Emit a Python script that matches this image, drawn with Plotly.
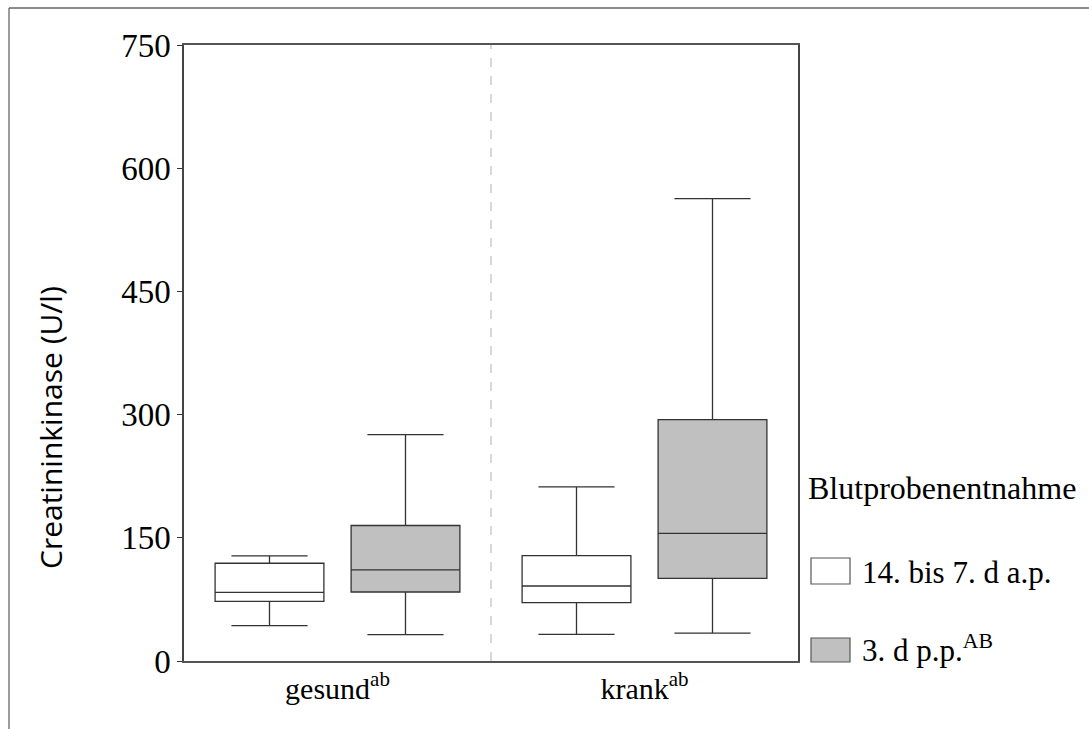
import plotly.graph_objects as go

# Creatine kinase by health status and sampling time (box summary statistics)
groups = ["gesund", "krank"]
group_labels = ["gesund<sup>ab</sup>", "krank<sup>ab</sup>"]

series_names = ["14. bis 7. d a.p.", "3. d p.p.<sup>AB</sup>"]

# 14. bis 7. d a.p.
ap_lower = [43, 32.5]
ap_q1 = [72.7, 71]
ap_median = [83.6, 91.3]
ap_q3 = [119, 128.3]
ap_upper = [128, 212]

# 3. d p.p.
pp_lower = [32, 34]
pp_q1 = [84, 100.7]
pp_median = [111, 155.5]
pp_q3 = [165, 294]
pp_upper = [275.5, 563]

y_ticks = [0, 150, 300, 450, 600, 750]

SERIF = "Liberation Serif, Times New Roman, serif"
LINE = "#333333"
GRAY = "#c0c0c0"

fig = go.Figure()
for name, lo, q1, med, q3, up, fill in [
    (series_names[0], ap_lower, ap_q1, ap_median, ap_q3, ap_upper, "white"),
    (series_names[1], pp_lower, pp_q1, pp_median, pp_q3, pp_upper, GRAY),
]:
    fig.add_trace(go.Box(
        name=name, x=groups, q1=q1, median=med, q3=q3,
        lowerfence=lo, upperfence=up,
        fillcolor=fill, line=dict(color=LINE, width=1.3),
        whiskerwidth=0.7, boxpoints=False, showlegend=False,
        hoverinfo="skip",
    ))

L, R, T, B = 184, 291, 45, 68
W, H = 1089, 729
pw, ph = W - L - R, H - T - B


def px(x):
    return (x - L) / pw


def py(y):
    return (H - B - y) / ph


shapes = [
    # dashed separator between groups
    dict(type="line", xref="x", yref="paper", x0=0.5, x1=0.5, y0=0, y1=1,
         line=dict(color="#cccccc", width=1.5, dash="dash"), layer="below"),
    # outer frame
    dict(type="line", xref="paper", yref="paper", x0=px(9), x1=px(9),
         y0=py(8), y1=py(760), line=dict(color="#666666", width=1.3)),
    dict(type="line", xref="paper", yref="paper", x0=px(9), x1=px(1100),
         y0=py(8), y1=py(8), line=dict(color="#666666", width=1.5)),
    # legend swatches
    dict(type="rect", xref="paper", yref="paper", x0=px(811), x1=px(850),
         y0=py(584), y1=py(558), fillcolor="white",
         line=dict(color="#555555", width=1.2)),
    dict(type="rect", xref="paper", yref="paper", x0=px(811), x1=px(850),
         y0=py(662), y1=py(638), fillcolor=GRAY,
         line=dict(color="#555555", width=1.2)),
]

annotations = [
    dict(text="Creatininkinase (U/l)", xref="paper", yref="paper",
         x=px(50), y=py(428), textangle=-90, showarrow=False,
         font=dict(family="Open Sans, sans-serif", size=30, color="black"),
         xanchor="center", yanchor="middle"),
    dict(text="Blutprobenentnahme", xref="paper", yref="paper",
         x=px(806), y=py(488), showarrow=False, xanchor="left", yanchor="middle",
         font=dict(family=SERIF, size=32, color="black")),
    dict(text=series_names[0], xref="paper", yref="paper",
         x=px(860), y=py(572), showarrow=False, xanchor="left", yanchor="middle",
         font=dict(family=SERIF, size=31, color="black")),
    dict(text=series_names[1], xref="paper", yref="paper",
         x=px(860), y=py(648), showarrow=False, xanchor="left", yanchor="middle",
         font=dict(family=SERIF, size=31, color="black")),
]

fig.update_layout(
    width=W, height=H,
    margin=dict(l=L, r=R, t=T, b=B, pad=0),
    paper_bgcolor="white", plot_bgcolor="white",
    boxmode="group", boxgap=0.114, boxgroupgap=0.2,
    showlegend=False,
    shapes=shapes, annotations=annotations,
    xaxis=dict(
        type="category", categoryorder="array", categoryarray=groups,
        tickvals=groups, ticktext=group_labels, range=[-0.5, 1.5],
        showgrid=False, zeroline=False, ticks="",
        showline=True, mirror=True, linecolor="#555555", linewidth=1.5,
        tickfont=dict(family=SERIF, size=30, color="black"),
    ),
    yaxis=dict(
        range=[0, 750], tickvals=y_ticks, ticktext=[str(v) for v in y_ticks],
        showgrid=False, zeroline=False, ticks="outside", ticklen=5,
        tickcolor="#333333", tickwidth=1.2,
        showline=True, mirror=True, linecolor="#444444", linewidth=1.5,
        tickfont=dict(family=SERIF, size=33, color="black"),
    ),
)

fig.write_html("out.html")
